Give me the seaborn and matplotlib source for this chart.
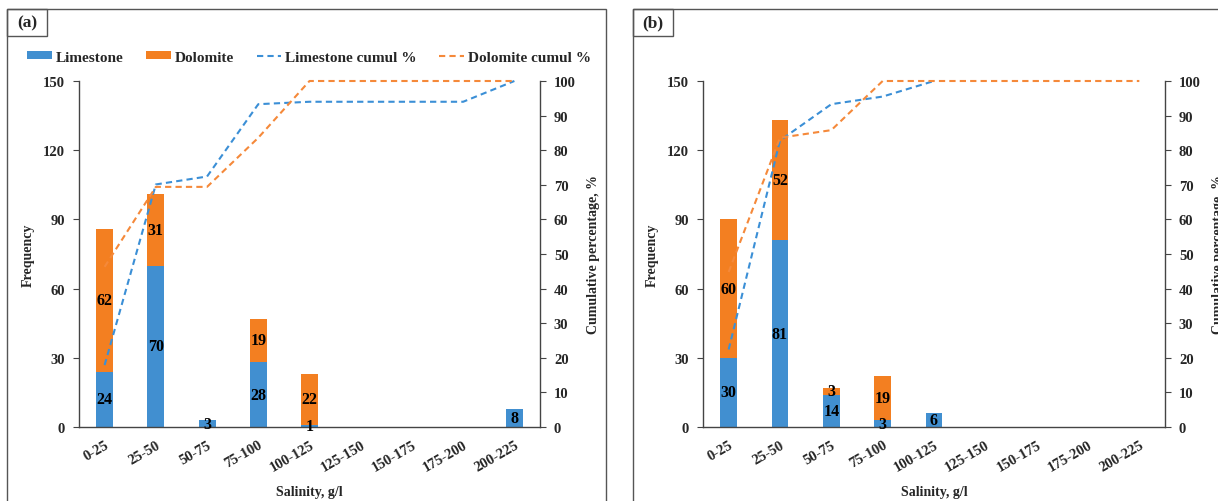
import numpy as np
import pandas as pd
import matplotlib
matplotlib.use("Agg")
import matplotlib.pyplot as plt
import seaborn as sns
from matplotlib.patches import Rectangle, Patch
from matplotlib.lines import Line2D

# ---------------- data ----------------
categories = ["0-25", "25-50", "50-75", "75-100", "100-125",
              "125-150", "150-175", "175-200", "200-225"]

lime_a = [24, 70, 3, 28, 1, 0, 0, 0, 8]
dolo_a = [62, 31, 0, 19, 22, 0, 0, 0, 0]
lime_cum_a = [17.9, 70.1, 72.4, 93.3, 94.0, 94.0, 94.0, 94.0, 100.0]
dolo_cum_a = [46.3, 69.4, 69.4, 83.6, 100.0, 100.0, 100.0, 100.0, 100.0]

lime_b = [30, 81, 14, 3, 6, 0, 0, 0, 0]
dolo_b = [60, 52, 3, 19, 0, 0, 0, 0, 0]
lime_cum_b = [22.4, 82.8, 93.3, 95.5, 100.0, np.nan, np.nan, np.nan, np.nan]
dolo_cum_b = [44.8, 83.6, 85.8, 100.0, 100.0, 100.0, 100.0, 100.0, 100.0]

freq_ticks = [0, 30, 60, 90, 120, 150]
pct_ticks = [0, 10, 20, 30, 40, 50, 60, 70, 80, 90, 100]

BLUE = "#418fd0"
ORANGE = "#f37f21"
LBLUE = "#3b8fd6"
LORANGE = "#f5893a"
DASH = (0, (3, 2))

sns.set_theme(style="white")
plt.rcParams["font.family"] = ["Liberation Serif", "DejaVu Serif"]
plt.rcParams["font.weight"] = "bold"

W, H = 1218, 502
fig = plt.figure(figsize=(W / 100, H / 100), dpi=100)


def fx(px):
    return px / W


def fy(py):
    return 1 - py / H


def panel(left_px, right_px, lime, dolo, lcum, dcum, tag, box):
    ax = fig.add_axes([fx(left_px), fy(428), fx(right_px - left_px), (428 - 82) / H])
    df = pd.DataFrame({"cat": categories,
                       "lime": lime,
                       "total": np.array(lime) + np.array(dolo)})
    sns.barplot(data=df, x="cat", y="total", color=ORANGE, width=0.33,
                saturation=1, ax=ax, order=categories, edgecolor="none")
    sns.barplot(data=df, x="cat", y="lime", color=BLUE, width=0.33,
                saturation=1, ax=ax, order=categories, edgecolor="none")
    ax.set_xlim(-0.5, len(categories) - 0.5)
    ax.set_ylim(0, 150)
    ax.set_yticks(freq_ticks)
    ax.set_yticklabels([str(t) for t in freq_ticks], fontsize=10.5, fontweight="bold")
    ax.set_xticks(range(len(categories)))
    ax.set_xticklabels(categories, rotation=30, ha="right", rotation_mode="anchor",
                       fontsize=10.5, fontweight="bold")
    ax.tick_params(axis="x", length=0, pad=8)
    ax.tick_params(axis="y", direction="out", length=4, width=0.8, left=True, pad=6,
                   color="#444444")
    for s in ["top", "right"]:
        ax.spines[s].set_visible(False)
    for s in ["left", "bottom"]:
        ax.spines[s].set_color("#444444")
        ax.spines[s].set_linewidth(1.0)
    ax.set_xlabel("Salinity, g/l", fontsize=10, fontweight="bold", labelpad=8)
    ax.set_ylabel("Frequency", fontsize=10, fontweight="bold", labelpad=6)

    # value labels
    for i, (l, d) in enumerate(zip(lime, dolo)):
        if l > 0:
            ax.text(i, l / 2, str(l), ha="center", va="center", fontsize=11.5,
                    fontweight="bold", color="black")
        if d > 0:
            ax.text(i, l + d / 2, str(d), ha="center", va="center", fontsize=11.5,
                    fontweight="bold", color="black")

    ax2 = ax.twinx()
    x = np.arange(len(categories))
    sns.lineplot(x=x, y=lcum, ax=ax2, color=LBLUE, lw=1.5, linestyle=DASH, clip_on=False)
    sns.lineplot(x=x, y=dcum, ax=ax2, color=LORANGE, lw=1.5, linestyle=DASH, clip_on=False)
    ax2.set_ylim(0, 100)
    ax2.set_yticks(pct_ticks)
    ax2.set_yticklabels([str(t) for t in pct_ticks], fontsize=10.5, fontweight="bold")
    ax2.tick_params(axis="y", direction="out", length=4, width=0.8, right=True, pad=6,
                    color="#444444")
    for s in ["top", "left", "bottom"]:
        ax2.spines[s].set_visible(False)
    ax2.spines["right"].set_color("#444444")
    ax2.spines["right"].set_linewidth(1.0)
    ax2.set_ylabel("Cumulative percentage, %", fontsize=10, fontweight="bold", labelpad=8)
    ax2.set_xlim(-0.5, len(categories) - 0.5)

    # panel frame and tag box
    x0, x1 = box
    fig.add_artist(Rectangle((fx(x0), fy(H + 5)), fx(x1 - x0), (H + 5 - 10) / H,
                             transform=fig.transFigure, fill=False,
                             edgecolor="#555555", lw=1.0))
    fig.add_artist(Rectangle((fx(x0), fy(37)), fx(40), 27 / H,
                             transform=fig.transFigure, fill=False,
                             edgecolor="#555555", lw=1.0))
    fig.text(fx(x0 + 20), fy(23.5), tag, ha="center", va="center",
             fontsize=12.5, fontweight="bold")
    return ax


axa = panel(79, 540, lime_a, dolo_a, lime_cum_a, dolo_cum_a, "(a)", (7, 606))
axb = panel(703, 1165, lime_b, dolo_b, lime_cum_b, dolo_cum_b, "(b)", (633, 1225))

handles = [Patch(facecolor=BLUE, edgecolor="none"),
           Patch(facecolor=ORANGE, edgecolor="none"),
           Line2D([], [], color=LBLUE, lw=1.5, linestyle=DASH),
           Line2D([], [], color=LORANGE, lw=1.5, linestyle=DASH)]
labels = ["Limestone", "Dolomite", "Limestone cumul %", "Dolomite cumul %"]
fig.legend(handles, labels, loc="center", bbox_to_anchor=(fx(309), fy(58)),
           ncol=4, frameon=False, handlelength=1.6, handleheight=0.45,
           handletextpad=0.25, columnspacing=1.5, prop={"weight": "bold", "size": 11})

fig.savefig("out.png", dpi=100)
